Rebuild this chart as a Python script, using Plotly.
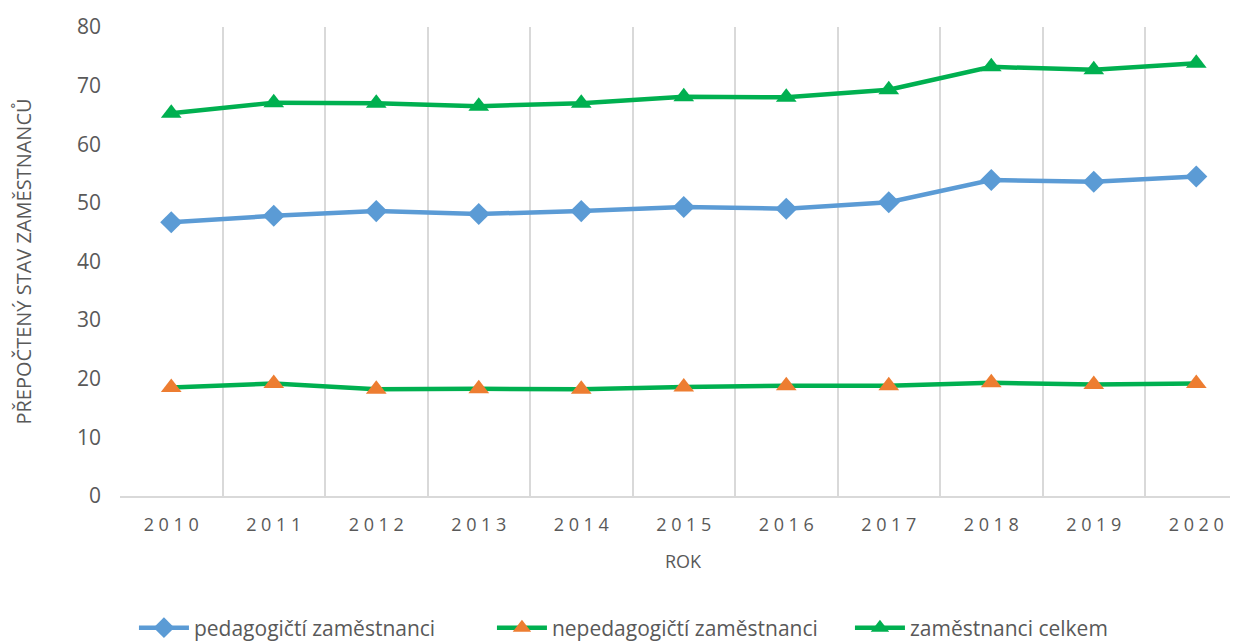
import plotly.graph_objects as go

roky = ['2010', '2011', '2012', '2013', '2014', '2015', '2016', '2017', '2018', '2019', '2020']
pedagogicti = [46.7, 47.8, 48.6, 48.1, 48.6, 49.3, 49.0, 50.1, 53.9, 53.6, 54.5]
nepedagogicti = [18.5, 19.2, 18.2, 18.3, 18.2, 18.6, 18.8, 18.8, 19.3, 19.0, 19.2]
celkem = [65.3, 67.1, 67.0, 66.5, 67.0, 68.1, 68.0, 69.3, 73.2, 72.7, 73.8]

# popisky os s proloženými mezerami jako v Excelu
popisky = [' '.join(r) for r in roky]

fig = go.Figure()
fig.add_trace(go.Scatter(
    x=roky, y=pedagogicti, name='pedagogičtí zaměstnanci', mode='lines+markers',
    line=dict(color='#5B9BD5', width=4.5),
    marker=dict(symbol='diamond', size=17, color='#5B9BD5')
))
fig.add_trace(go.Scatter(
    x=roky, y=nepedagogicti, name='nepedagogičtí zaměstnanci', mode='lines+markers',
    line=dict(color='#00B050', width=4.5),
    marker=dict(symbol='triangle-up', size=18, color='#ED7D31')
))
fig.add_trace(go.Scatter(
    x=roky, y=celkem, name='zaměstnanci celkem', mode='lines+markers',
    line=dict(color='#00B050', width=4.5),
    marker=dict(symbol='triangle-up', size=18, color='#00B050')
))

# stránka má okraj 8 px, proto je graf o 8 px menší
fig.update_layout(
    width=1230, height=635,
    margin=dict(l=112, r=0, t=19, b=147),
    plot_bgcolor='white', paper_bgcolor='white',
    font=dict(family='Open Sans', color='#595959'),
    showlegend=True,
    legend=dict(
        orientation='h', xref='container', yref='container',
        x=0.1024, xanchor='left', y=0.0236, yanchor='middle',
        font=dict(size=21, color='#595959'), itemwidth=50,
        entrywidth=293, entrywidthmode='pixels'
    ),
    annotations=[
        dict(text='ROK', xref='x', x=5, yref='paper', y=0, yanchor='middle', yshift=-65,
             showarrow=False, font=dict(size=18, color='#595959')),
        dict(text='PŘEPOČTENÝ STAV ZAMĚSTNANCŮ', textangle=-90,
             xref='paper', x=0, xanchor='center', xshift=-97, yref='paper', y=0.5,
             showarrow=False, font=dict(size=20, color='#595959')),
    ]
)
fig.update_xaxes(
    type='category', tickvals=roky, ticktext=popisky,
    tickson='boundaries', showgrid=True, gridcolor='#D9D9D9', gridwidth=1.5,
    range=[-0.5, 10.407], showline=True, linecolor='#D9D9D9', linewidth=1.5,
    ticks='', ticklabelstandoff=12, tickfont=dict(size=18, color='#595959'),
    automargin=False
)
fig.update_yaxes(
    range=[0, 80], dtick=10, showgrid=False, zeroline=False, showline=False,
    ticks='', ticklabelstandoff=18, tickfont=dict(size=21, color='#595959'),
    automargin=False
)

fig.write_html("out.html")
